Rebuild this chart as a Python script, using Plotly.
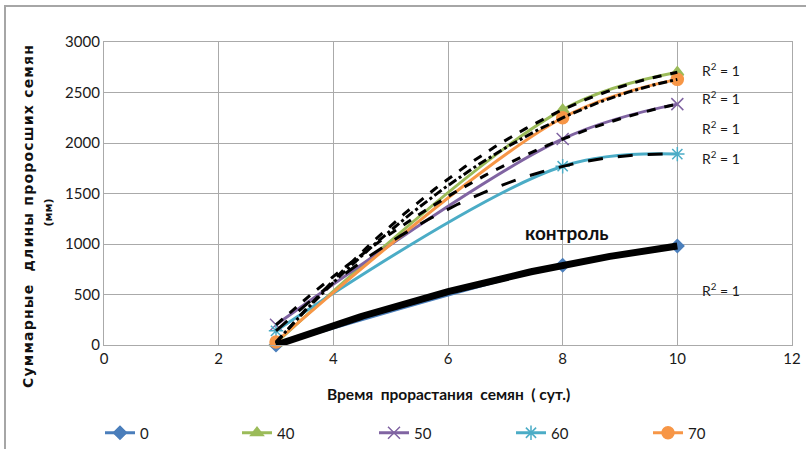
import numpy as np
import plotly.graph_objects as go

# Germination day and summed sprout length (mm) for each treatment
days = [3, 8, 10]
series_names = ["0", "40", "50", "60", "70"]
len_0 = [0, 790, 980]
len_40 = [20, 2330, 2700]
len_50 = [200, 2040, 2385]
len_60 = [140, 1770, 1890]
len_70 = [30, 2250, 2630]

x_ticks = [0, 2, 4, 6, 8, 10, 12]
y_ticks = [0, 500, 1000, 1500, 2000, 2500, 3000]

# R² label positions (data coords) for the polynomial trendlines
r2_x = 10.4
r2_y = [2723, 2455, 2158, 1861, 545]

values = [len_0, len_40, len_50, len_60, len_70]
colors = ["#4A7EBB", "#9BBB59", "#8064A2", "#4BACC6", "#F79646"]
symbols = ["diamond", "triangle-up", "x-thin-open", "asterisk-open", "circle"]
msizes = [10, 11, 12, 12, 12]
trend_dash = ["solid", "dash", "dash", "longdash", "dashdot"]
trend_width = [7, 3, 3, 3, 3]

fig = go.Figure()

for name, yv, c, s, ms in zip(series_names, values, colors, symbols, msizes):
    fig.add_trace(go.Scatter(
        x=days, y=yv, name=name, mode="lines+markers", cliponaxis=False,
        line=dict(color=c, width=3, shape="spline", smoothing=1.0),
        marker=dict(symbol=s, size=ms, color=c, line=dict(color=c, width=1.5)),
    ))

# Second-order polynomial trendlines through each series
xx = np.linspace(days[0], days[-1], 120)
for yv, d, w in zip(values, trend_dash, trend_width):
    coef = np.polyfit(days, yv, 2)
    fig.add_trace(go.Scatter(
        x=xx, y=np.polyval(coef, xx), mode="lines", showlegend=False,
        line=dict(color="black", width=w, dash=d), hoverinfo="skip",
        cliponaxis=False,
    ))

annotations = []
for ry in r2_y:
    annotations.append(dict(
        x=r2_x, y=ry, xref="x", yref="y", xanchor="left", yanchor="middle",
        text="R<sup>2</sup> = 1", showarrow=False,
        font=dict(family="Lato", size=14, color="#1a1a1a"),
    ))
annotations.append(dict(
    x=8.06, y=1110, xref="x", yref="y", text="<b>контроль</b>", showarrow=False,
    font=dict(family="Lato", size=19, color="#111111"),
))
annotations.append(dict(
    x=(18 - 104) / 688, y=(345 - 216) / 303, xref="paper", yref="paper",
    text="<span style='letter-spacing:1.2px'><b>Суммарные  длины проросших семян</b></span>",
    textangle=-90, showarrow=False,
    font=dict(family="DejaVu Sans", size=14, color="#111111"),
))
annotations.append(dict(
    x=(39 - 104) / 688, y=(345 - 213) / 303, xref="paper", yref="paper",
    text="<b>(мм)</b>", textangle=-90, showarrow=False,
    font=dict(family="DejaVu Sans", size=11, color="#111111"),
))
annotations.append(dict(
    x=0.5, y=(345 - 405) / 303, xref="paper", yref="paper",
    text="<b>Время  прорастания  семян  ( сут.)</b>", showarrow=False,
    font=dict(family="Lato", size=15.5, color="#111111"),
))

fig.update_layout(
    width=806, height=449,
    margin=dict(l=104, r=14, t=42, b=104, autoexpand=False),
    paper_bgcolor="white", plot_bgcolor="white",
    font=dict(family="Lato", size=15, color="#1a1a1a"),
    annotations=annotations,
    legend=dict(
        orientation="h", xref="container", yref="container",
        x=100 / 806, y=1 - 433 / 449,
        xanchor="left", yanchor="middle",
        entrywidth=92, entrywidthmode="pixels",
        font=dict(family="Lato", size=15, color="#1a1a1a"),
    ),
    shapes=[dict(
        type="rect", xref="paper", yref="paper",
        x0=(5 - 104) / 688, x1=(812 - 104) / 688,
        y0=(345 - 460) / 303, y1=(345 - 6) / 303,
        line=dict(color="#A6A6A6", width=2), layer="below",
    )],
    showlegend=True,
)

fig.update_xaxes(
    range=[0, 12], tickvals=x_ticks, ticks="", showgrid=True,
    gridcolor="#AAAAAA", gridwidth=1.2, zeroline=False,
    showline=True, linecolor="#AAAAAA", linewidth=1.2, mirror=True,
    tickfont=dict(family="Lato", size=15, color="#1a1a1a"),
)
fig.update_yaxes(
    range=[0, 3000], tickvals=y_ticks, ticks="", showgrid=True,
    gridcolor="#AAAAAA", gridwidth=1.2, zeroline=False,
    showline=True, linecolor="#AAAAAA", linewidth=1.2, mirror=True,
    tickfont=dict(family="Lato", size=15, color="#1a1a1a"),
)

fig.write_html("out.html")
